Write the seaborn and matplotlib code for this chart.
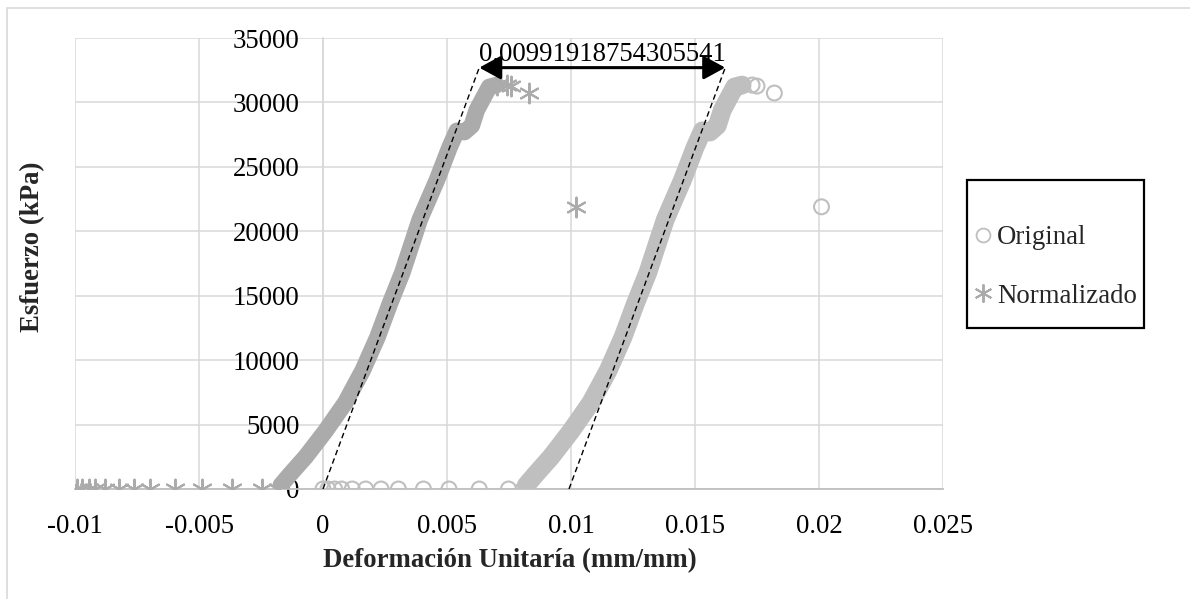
import matplotlib
matplotlib.use("Agg")
import matplotlib.pyplot as plt
import seaborn as sns
from matplotlib.lines import Line2D
from matplotlib.patches import Rectangle

sns.set_theme(style="white")
plt.rcParams["font.family"] = ["Liberation Serif", "DejaVu Serif"]

W, H = 1190, 599

# ---- data -------------------------------------------------------------
SHIFT_LABEL = "0.00991918754305541"
SHIFT = float(SHIFT_LABEL)

# Original test: seating points at zero stress, loading curve, last readings
orig_seat_x = [0.0, 0.0002, 0.00047, 0.00075, 0.00118, 0.00172, 0.00234,
               0.00304, 0.00405, 0.00508, 0.0063, 0.00748, 0.00808]
seat_y = [0, 0, 0, 0, 0, 0, 0, 0, 0, 0, 0, 0, 0]

orig_curve_x = [0.0082, 0.0086, 0.0092, 0.0100, 0.0108, 0.0115, 0.0121,
                0.0126, 0.0131, 0.0138, 0.0145, 0.0150, 0.0153, 0.0156,
                0.0159, 0.0161, 0.0166, 0.0169]
curve_y = [300, 1200, 2500, 4500, 6700, 9200, 11800, 14400, 16800, 20900,
           24000, 26500, 27800, 27700, 28200, 29400, 31200, 31350]

orig_tail_x = [0.0169, 0.0173, 0.0175, 0.0182, 0.0201]
tail_y = [31350, 31350, 31270, 30730, 21900]

# Normalized test (toe region removed)
norm_seat_x = [-0.00992, -0.00972, -0.00945, -0.00918, -0.00879, -0.00824,
               -0.00763, -0.00696, -0.00596, -0.00488, -0.00367, -0.00246,
               -0.00183]
norm_curve_x = [-0.0017, -0.0013, -0.0007, 0.0001, 0.0009, 0.0016, 0.0022,
                0.0027, 0.0032, 0.0039, 0.0046, 0.0051, 0.0054, 0.0057,
                0.0060, 0.0062, 0.0067, 0.0070]
norm_tail_x = [0.0070, 0.0074, 0.0076, 0.0083, 0.0102]

# Tangent through the elastic part, top point of the left tangent
tan_top_x = 0.0063
tan_top_y = 32700

x_ticks = [-0.01, -0.005, 0, 0.005, 0.01, 0.015, 0.02, 0.025]
x_tick_labels = ["-0.01", "-0.005", "0", "0.005", "0.01", "0.015", "0.02", "0.025"]
y_ticks = [0, 5000, 10000, 15000, 20000, 25000, 30000, 35000]
y_tick_labels = ["0", "5000", "10000", "15000", "20000", "25000", "30000", "35000"]

labels = ["Original", "Normalizado"]

# ---- styling ----------------------------------------------------------
C_ORIG = "#bfbfbf"
C_NORM = "#ababab"
GRID = "#d9d9d9"
FS = 19.3
AST = (6, 2, 0)

fig = plt.figure(figsize=(W / 100, H / 100), dpi=100)
ax = fig.add_axes([75 / W, 1 - 489 / H, (943 - 75) / W, (489 - 38) / H])
ax.set_xlim(-0.01, 0.025)
ax.set_ylim(0, 35000)

ax.set_xticks(x_ticks)
ax.set_xticklabels(x_tick_labels)
ax.set_yticks(y_ticks)
ax.set_yticklabels(y_tick_labels)
ax.grid(True, color=GRID, lw=1.1, zorder=0)
ax.set_axisbelow(True)
for s in ["top", "right"]:
    ax.spines[s].set_visible(False)
ax.spines["left"].set_position(("data", 0))
ax.spines["left"].set_color(GRID)
ax.spines["left"].set_linewidth(1.1)
ax.spines["bottom"].set_color(C_ORIG)
ax.spines["bottom"].set_linewidth(1.3)
ax.tick_params(axis="both", length=0, labelsize=FS, colors="black")
ax.tick_params(axis="y", pad=17)
ax.tick_params(axis="x", pad=18)
ax.set_xlabel("")
ax.set_ylabel("")

# dense loading curves (many overlapping markers form a solid band)
sns.lineplot(x=orig_curve_x, y=curve_y, sort=False, estimator=None, ax=ax,
             color=C_ORIG, lw=13.5, solid_capstyle="round", zorder=3)
sns.lineplot(x=norm_curve_x, y=curve_y, sort=False, estimator=None, ax=ax,
             color=C_NORM, lw=12, solid_capstyle="round", zorder=3)

# individual readings
sns.scatterplot(x=orig_seat_x + orig_tail_x, y=seat_y + tail_y, ax=ax,
                marker="o", s=115, facecolor="none", edgecolor=C_ORIG,
                linewidth=1.5, zorder=4)
sns.scatterplot(x=norm_seat_x + norm_tail_x, y=seat_y + tail_y, ax=ax,
                marker=AST, s=200, color=C_NORM, linewidth=1.5, zorder=4)

# tangent lines and offset arrow
ax.plot([0, tan_top_x], [0, tan_top_y], color="black", lw=1.0,
        dashes=(4, 2.5), zorder=5)
ax.plot([SHIFT, tan_top_x + SHIFT], [0, tan_top_y], color="black", lw=1.0,
        dashes=(4, 2.5), zorder=5)
ax.annotate("", xy=(tan_top_x + SHIFT, tan_top_y), xytext=(tan_top_x, tan_top_y),
            arrowprops=dict(arrowstyle="<|-|>,head_length=0.55,head_width=0.3",
                            mutation_scale=24, color="black", lw=2.2,
                            shrinkA=0, shrinkB=0), zorder=6)
ax.annotate(SHIFT_LABEL, xy=(tan_top_x + SHIFT / 2, tan_top_y),
            xytext=(0, 9.5), textcoords="offset points",
            ha="center", va="center", fontsize=FS, color="black", zorder=6)

# axis titles
fig.text(510 / W, 1 - 561 / H, "Deformación Unitaría (mm/mm)",
         ha="center", va="center", fontsize=FS, fontweight="bold")
fig.text(33 / W, 1 - 247 / H, "Esfuerzo (kPa)", rotation=90,
         ha="center", va="center", fontsize=FS, fontweight="bold")

# legend entries and its box
handles = [
    Line2D([], [], ls="", marker="o", ms=10, mfc="none", mec=C_ORIG, mew=1.3),
    Line2D([], [], ls="", marker=AST, ms=13, mec=C_NORM, mew=1.4),
]
leg = fig.legend(handles, labels, loc="center left",
                 bbox_to_anchor=(975 / W, 1 - 267 / H), fontsize=FS,
                 frameon=False, borderpad=0, labelspacing=1.24,
                 handlelength=0.6, handletextpad=0.22, borderaxespad=0)
fig.patches.append(Rectangle((967 / W, 1 - 328 / H), (1144 - 967) / W,
                             (328 - 180) / H, transform=fig.transFigure,
                             fill=False, ec="black", lw=1.6, zorder=5))

# chart area border
fig.patches.append(Rectangle((7 / W, -0.1), 2, (1 - 8 / H) + 0.1,
                             transform=fig.transFigure, fill=False,
                             ec=GRID, lw=1.2))

fig.savefig("out.png", dpi=100)
